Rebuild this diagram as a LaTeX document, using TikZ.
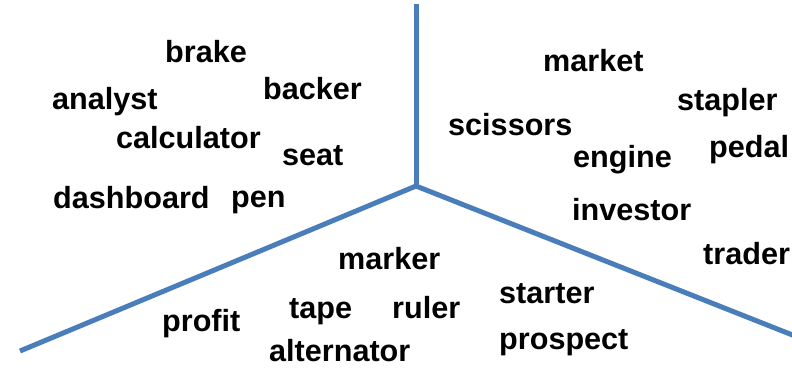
\documentclass[tikz,border=0pt]{standalone}
\usepackage{fontspec}
\setmainfont{Liberation Sans}
\begin{document}
\begin{tikzpicture}[x=1pt,y=-1pt,
  word/.style={anchor=base west,inner sep=0pt,font=\bfseries\fontsize{30.6}{36}\selectfont},
  divider/.style={line width=5pt,draw={rgb,255:red,74;green,126;blue,187}}]
\useasboundingbox (0,0) rectangle (792,368);
% three dividers meeting at a hub
\coordinate (hub) at (416,186);
\coordinate (top) at (416,4);
\coordinate (bl) at (20,351);
\coordinate (br) at (795,336);
\draw[divider] (hub) -- (top);
\draw[divider] (hub) -- (bl);
\draw[divider] (hub) -- (br);
% upper left sector
\node[word] (brake) at (165,62) {brake};
\node[word] (analyst) at (52,109) {analyst};
\node[word] (backer) at (263,99) {backer};
\node[word] (calculator) at (116,148) {calculator};
\node[word] (seat) at (282,165) {seat};
\node[word] (dashboard) at (53,208) {dashboard};
\node[word] (pen) at (231,207) {pen};
% upper right sector
\node[word] (market) at (543,71) {market};
\node[word] (stapler) at (677,110) {stapler};
\node[word] (scissors) at (448,135) {scissors};
\node[word] (pedal) at (709,157) {pedal};
\node[word] (engine) at (573,167) {engine};
\node[word] (investor) at (572,220) {investor};
\node[word] (trader) at (703,264) {trader};
% lower sector
\node[word] (marker) at (338,269) {marker};
\node[word] (tape) at (289,318) {tape};
\node[word] (ruler) at (392,318) {ruler};
\node[word] (profit) at (162,331) {profit};
\node[word] (alternator) at (269,361) {alternator};
\node[word] (starter) at (499,303) {starter};
\node[word] (prospect) at (499,349) {prospect};
\end{tikzpicture}
\end{document}
